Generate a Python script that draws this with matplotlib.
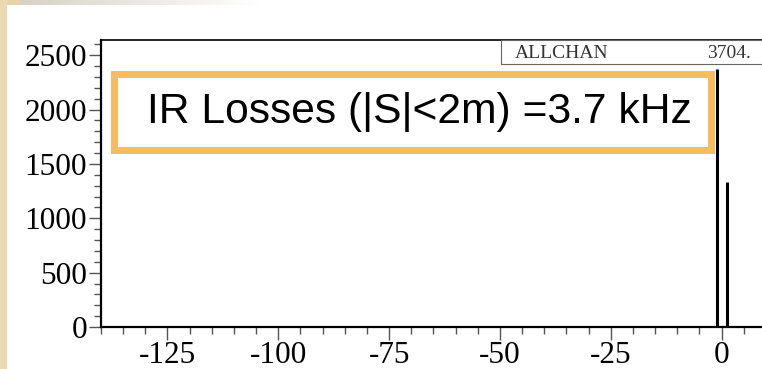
import numpy as np
import matplotlib
matplotlib.use("Agg")
import matplotlib.pyplot as plt
from matplotlib.patches import Rectangle
from matplotlib.ticker import MultipleLocator

# hit positions along s (m) and counts per channel
s_pos = [-1.0, 1.3]
counts = [2370, 1334]
stat_name = "ALLCHAN"
label_text = "IR Losses (|S|<2m) =3.7 kHz"

plt.rcParams["axes.unicode_minus"] = False

W, H = 762, 369
fig = plt.figure(figsize=(W / 100, H / 100), dpi=100)
fig.patch.set_facecolor("white")

def px(x, y):
    # pixel coords (top-left origin) -> figure fraction
    return x / W, 1 - y / H

# slide background strips
bg = fig.add_axes([0, 0, 1, 1], zorder=-5)
bg.set_xlim(0, W)
bg.set_ylim(H, 0)
bg.axis("off")
grad = np.linspace(0, 1, 256).reshape(1, -1)
bg.imshow(grad, extent=(20, 260, 5, 0), cmap=matplotlib.colors.LinearSegmentedColormap.from_list(
    "g", ["#d6d2c4", "#ffffff"]), aspect="auto")
bg.add_patch(Rectangle((0, 0), 20, 5, color="#e8d3a8", lw=0))
bg.add_patch(Rectangle((0, 0), 7, H, color="#ead8b0", lw=0))

# main histogram axes
x0, y0 = px(101, 327)
x1, y1 = px(766, 40)
ax = fig.add_axes([x0, y0, x1 - x0, y1 - y0])
ax.vlines(s_pos, 0, counts, colors="black", lw=2.2)
ax.set_xlim(-140, 10)
ax.set_ylim(0, 2640)

ax.xaxis.set_major_locator(MultipleLocator(25))
ax.xaxis.set_minor_locator(MultipleLocator(5))
ax.yaxis.set_major_locator(MultipleLocator(500))
ax.yaxis.set_minor_locator(MultipleLocator(100))
ax.tick_params(which="major", direction="out", length=9, width=1.0, color="#555555",
               labelsize=22.5, pad=1)
ax.tick_params(which="minor", direction="out", length=5, width=1.0, color="#555555")
for lab in ax.get_xticklabels() + ax.get_yticklabels():
    lab.set_family("Liberation Serif")
for side in ["left", "bottom"]:
    ax.spines[side].set_linewidth(1.6)
ax.spines["top"].set_linewidth(1.2)
ax.spines["right"].set_visible(False)

# stats box in the corner
sx, sy = px(501, 64)
sx2, sy2 = px(770, 40)
fig.patches.append(Rectangle((sx, sy), sx2 - sx, sy2 - sy, transform=fig.transFigure,
                             facecolor="white", edgecolor="#666666", lw=0.8, zorder=5))
fig.text(*px(515, 53), stat_name, family="Liberation Serif", fontsize=14,
         va="center", ha="left", color="#333333", zorder=6)
fig.text(*px(751, 53), f"{sum(counts)}.", family="Liberation Serif", fontsize=14,
         va="center", ha="right", color="#333333", zorder=6)

# annotation box
bx, by = px(113.5, 149.5)
bx2, by2 = px(710.5, 74.5)
fig.patches.append(Rectangle((bx, by), bx2 - bx, by2 - by, transform=fig.transFigure,
                             facecolor="white", edgecolor="#f7bd5c", lw=5, zorder=7))
fig.text(*px(147, 112), label_text, family="Liberation Sans", fontsize=30.7,
         va="center", ha="left", color="black", zorder=8)

fig.savefig("out.png", dpi=100)
